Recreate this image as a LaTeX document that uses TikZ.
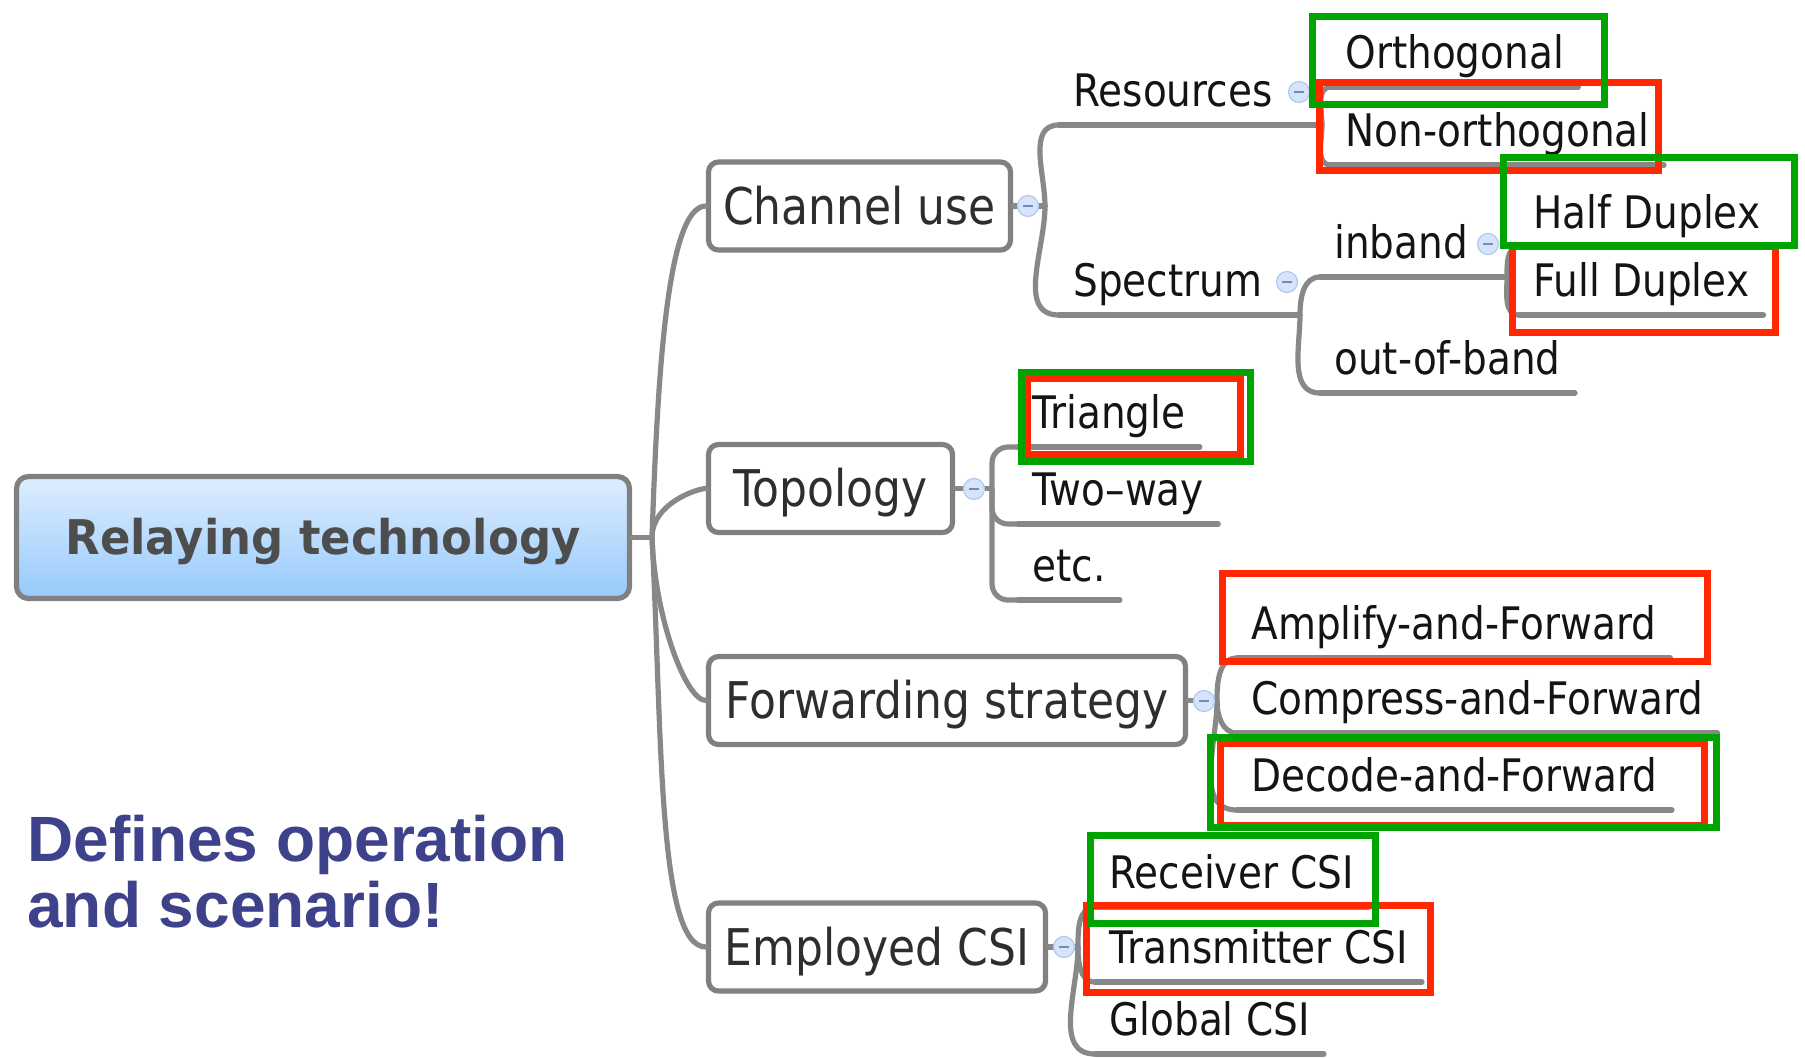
\documentclass[tikz,border=0pt]{standalone}
\usepackage{fontspec}
\newfontfamily\mapfont[FakeStretch=0.87]{DejaVu Sans}
\newfontfamily\rootfont[FakeStretch=0.94]{DejaVu Sans}
\newfontfamily\notefont{Liberation Sans}

\definecolor{linegray}{RGB}{136,136,136}
\definecolor{boxgray}{RGB}{128,128,128}
\definecolor{marked}{RGB}{255,40,0}
\definecolor{chosen}{RGB}{0,163,0}
\definecolor{notecol}{RGB}{62,66,138}
\definecolor{foldfill}{RGB}{214,228,251}
\definecolor{folddraw}{RGB}{178,200,238}
\definecolor{foldminus}{RGB}{120,138,180}

\tikzset{
  link/.style={draw=linegray, line width=2.6pt, line cap=round},
  topic/.style={draw=boxgray, line width=2.6pt, rounded corners=5pt, fill=white,
    minimum height=44pt, text height=18.4pt, text depth=0pt, text=black!82,
    font=\mapfont\fontsize{25.3pt}{30pt}\selectfont},
  leaf/.style={anchor=south west, inner xsep=7pt, inner ysep=9pt,
    text height=16.4pt, text depth=0pt, text=black!92,
    font=\mapfont\fontsize{22.4pt}{27pt}\selectfont},
  fold/.style={circle, draw=folddraw, fill=foldfill, line width=0.6pt,
    minimum size=10.5pt, inner sep=0pt,
    path picture={\draw[foldminus, line width=0.8pt]
      ([xshift=-2.5pt]path picture bounding box.center) --
      ([xshift=2.5pt]path picture bounding box.center);}},
  redbox/.style={draw=marked, line width=3.5pt},
  greenbox/.style={draw=chosen, line width=3.5pt},
}

\begin{document}
\begin{tikzpicture}[x=0.5pt, y=-0.5pt]
  \useasboundingbox (0,0) rectangle (1805,1057);

  % central topic
  \node[draw=boxgray, line width=2.6pt, rounded corners=6pt,
    top color={rgb,255:red,222;green,237;blue,254},
    bottom color={rgb,255:red,150;green,202;blue,252},
    minimum width=306.5pt, minimum height=61pt,
    text height=17.4pt, text depth=0pt, text={rgb,255:red,77;green,77;blue,77},
    font=\rootfont\bfseries\fontsize{23.9pt}{28pt}\selectfont]
    (root) at (323,537.5) {Relaying technology};

  % main branches
  \node[topic, minimum width=151pt] (cu) at (859.5,206) {Channel use};
  \node[topic, minimum width=122pt] (top) at (830.5,488.5) {Topology};
  \node[topic, minimum width=238.5pt] (fw) at (947,700.5) {Forwarding strategy};
  \node[topic, minimum width=168.5pt] (csi) at (877,947) {Employed CSI};

  % joints
  \coordinate (jroot) at (652,537.5);
  \coordinate (jcu) at (1045,206);
  \coordinate (jres) at (1322,125);
  \coordinate (jspec) at (1300,315);
  \coordinate (jinb) at (1507,277);
  \coordinate (jtop) at (992,488.5);
  \coordinate (jfw) at (1217,700.5);
  \coordinate (jcsi) at (1078,947);

  % sub topics
  \node[leaf] (res) at (1059,125) {Resources};
  \node[leaf] (spec) at (1059,315) {Spectrum};
  \node[leaf] (orth) at (1331,87) {Orthogonal};
  \node[leaf] (nonorth) at (1331,165) {Non-orthogonal};
  \node[leaf] (inband) at (1320,277) {inband};
  \node[leaf] (oob) at (1320,393) {out-of-band};
  \node[leaf] (half) at (1519,247) {Half Duplex};
  \node[leaf] (full) at (1519,315) {Full Duplex};
  \node[leaf] (tri) at (1018,447) {Triangle};
  \node[leaf] (two) at (1018,524) {Two–way};
  \node[leaf] (etc) at (1018,600) {etc.};
  \node[leaf] (amp) at (1237,658) {Amplify-and-Forward};
  \node[leaf] (comp) at (1237,733) {Compress-and-Forward};
  \node[leaf] (dec) at (1237,810) {Decode-and-Forward};
  \node[leaf] (rec) at (1095,907) {Receiver CSI};
  \node[leaf] (tra) at (1095,982) {Transmitter CSI};
  \node[leaf] (glo) at (1095,1054) {Global CSI};

  % connectors
  \draw[link] (root.east) -- (jroot);
  \draw[link] (jroot) to[out=88, in=180, out looseness=1.2, in looseness=0.3] (cu.west);
  \draw[link] (jroot) to[out=90, in=180, out looseness=1.2, in looseness=0.3] (top.west);
  \draw[link] (jroot) to[out=-88, in=180, out looseness=1.2, in looseness=0.3] (fw.west);
  \draw[link] (jroot) to[out=-87, in=180, out looseness=1.2, in looseness=0.3] (csi.west);

  \draw[link] (cu.east) -- (jcu);
  \draw[link] (jcu) to[out=90, in=180] (res.south west);
  \draw[link] (jcu) to[out=-90, in=180] (spec.south west);
  \draw[link] (res.south west) -- (jres);
  \draw[link] (spec.south west) -- (jspec);
  \draw[link] (jres) to[out=90, in=180] (orth.south west);
  \draw[link] (jres) to[out=-90, in=180] (nonorth.south west);
  \draw[link] (jspec) to[out=90, in=180] (inband.south west);
  \draw[link] (jspec) to[out=-90, in=180] (oob.south west);
  \draw[link] (inband.south west) -- (jinb);
  \draw[link] (jinb) to[out=90, in=180] (half.south west);
  \draw[link] (jinb) to[out=-90, in=180] (full.south west);

  \draw[link] (top.east) -- (jtop);
  \draw[link, rounded corners=8pt] (jtop) |- (tri.south west);
  \draw[link, rounded corners=8pt] (jtop) |- (two.south west);
  \draw[link, rounded corners=8pt] (jtop) |- (etc.south west);

  \draw[link] (fw.east) -- (jfw);
  \draw[link] (jfw) to[out=90, in=180] (amp.south west);
  \draw[link] (jfw) to[out=-90, in=180] (comp.south west);
  \draw[link] (jfw) to[out=-90, in=180] (dec.south west);

  \draw[link] (csi.east) -- (jcsi);
  \draw[link] (jcsi) to[out=90, in=180] (rec.south west);
  \draw[link] (jcsi) to[out=-90, in=180] (tra.south west);
  \draw[link] (jcsi) to[out=-90, in=180] (glo.south west);

  % underlines
  \foreach \n in {orth,nonorth,oob,half,full,tri,two,etc,amp,comp,dec,rec,tra,glo}
    \draw[link] (\n.south west) -- (\n.south east);

  % fold markers
  \node[fold] (fcu) at (1028,206) {};
  \node[fold] (ftop) at (974,489) {};
  \node[fold] (ffw) at (1204,701) {};
  \node[fold] (fcsi) at (1064,947) {};
  \node[fold] (fres) at (1299,92) {};
  \node[fold] (fspec) at (1287,282) {};
  \node[fold] (finb) at (1488,244) {};

  % marks
  \draw[redbox] (1319,82) rectangle (1658,170);
  \draw[redbox] (1512,246) rectangle (1775,332);
  \draw[redbox] (1027,378) rectangle (1240,454);
  \draw[redbox] (1222,573) rectangle (1707,661);
  \draw[redbox] (1220,743) rectangle (1704,825);
  \draw[redbox] (1086,905) rectangle (1430,992);
  \draw[greenbox] (1312,16) rectangle (1604,104);
  \draw[greenbox] (1503,157) rectangle (1794,245);
  \draw[greenbox] (1021,372) rectangle (1250,461);
  \draw[greenbox] (1210,737) rectangle (1716,827);
  \draw[greenbox] (1090,835) rectangle (1375,923);

  % note
  \node[anchor=base west, inner sep=0pt, align=left, text=notecol,
    font=\notefont\bfseries\fontsize{32pt}{33pt}\selectfont]
    (note) at (27,927) {Defines operation\\and scenario!};
\end{tikzpicture}
\end{document}
